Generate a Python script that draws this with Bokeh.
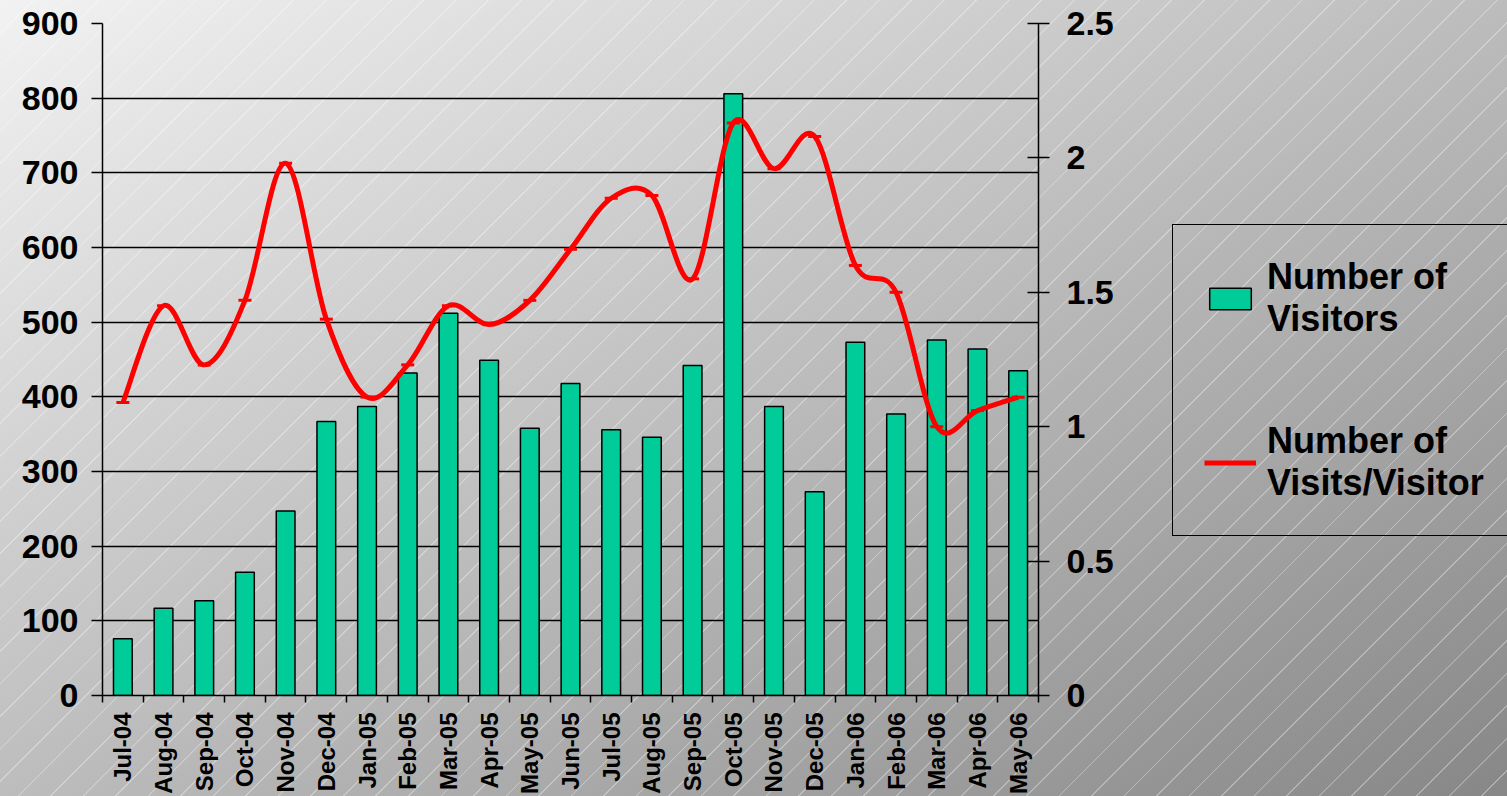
from bokeh.plotting import figure
from bokeh.layouts import row
from bokeh.models import (Range1d, LinearAxis, FixedTicker, CustomJSTickFormatter,
                          Legend, LegendItem, ColumnDataSource)
from bokeh.embed import file_html
from bokeh.resources import INLINE

months = ["Jul-04", "Aug-04", "Sep-04", "Oct-04", "Nov-04", "Dec-04", "Jan-05", "Feb-05",
          "Mar-05", "Apr-05", "May-05", "Jun-05", "Jul-05", "Aug-05", "Sep-05", "Oct-05",
          "Nov-05", "Dec-05", "Jan-06", "Feb-06", "Mar-06", "Apr-06", "May-06"]
visitors = [76, 117, 127, 165, 247, 367, 387, 432, 512, 449, 358, 418,
            356, 346, 442, 806, 387, 273, 473, 377, 476, 464, 435]
visits_per_visitor = [1.09, 1.45, 1.23, 1.47, 1.98, 1.40, 1.11, 1.23, 1.45, 1.38, 1.47, 1.66,
                      1.85, 1.86, 1.55, 2.13, 1.96, 2.08, 1.60, 1.50, 1.00, 1.06, 1.11]
left_ticks = [0, 100, 200, 300, 400, 500, 600, 700, 800, 900]
right_ticks = [0, 0.5, 1, 1.5, 2, 2.5]
series_names = ["Number of\nVisitors", "Number of\nVisits/Visitor"]

FONT = "Liberation Sans"
BAR_COLOR = "#00CC99"
LINE_COLOR = "#FF0000"
n = len(months)
xc = [i + 0.5 for i in range(n)]

bar_src = ColumnDataSource(dict(x=xc, top=visitors, month=months))
pt_src = ColumnDataSource(dict(x=xc, y=visits_per_visitor, month=months))

# smoothed rendering of the line (Catmull-Rom style Bezier segments through the data points)
x0, y0, x1, y1, cx0, cy0, cx1, cy1 = [], [], [], [], [], [], [], []
for i in range(n - 1):
    pm = i - 1 if i > 0 else 0
    pp = i + 2 if i + 2 < n else n - 1
    x0.append(xc[i]); y0.append(visits_per_visitor[i])
    x1.append(xc[i + 1]); y1.append(visits_per_visitor[i + 1])
    cx0.append(xc[i] + (xc[i + 1] - xc[pm]) / 6)
    cy0.append(visits_per_visitor[i] + (visits_per_visitor[i + 1] - visits_per_visitor[pm]) / 6)
    cx1.append(xc[i + 1] - (xc[pp] - xc[i]) / 6)
    cy1.append(visits_per_visitor[i + 1] - (visits_per_visitor[pp] - visits_per_visitor[i]) / 6)
bz_src = ColumnDataSource(dict(x0=x0, y0=y0, x1=x1, y1=y1, cx0=cx0, cy0=cy0, cx1=cx1, cy1=cy1))

p = figure(width=1130, height=796, output_backend="svg", toolbar_location=None,
           x_range=Range1d(0, n), y_range=Range1d(0, 900),
           min_border_left=102, min_border_right=92, min_border_top=23, min_border_bottom=98)
p.extra_y_ranges = {"r": Range1d(0, 2.5)}
p.background_fill_color = None
p.border_fill_color = None
p.outline_line_color = None

# grid
p.xgrid.grid_line_color = None
p.ygrid.grid_line_color = "black"
p.ygrid.grid_line_width = 1.5
p.ygrid.ticker = FixedTicker(ticks=left_ticks)

p.vbar(x="x", top="top", width=0.46, source=bar_src, fill_color=BAR_COLOR,
       line_color="black", line_width=1.5)
p.bezier(x0="x0", y0="y0", x1="x1", y1="y1", cx0="cx0", cy0="cy0", cx1="cx1", cy1="cy1",
         source=bz_src, line_color=LINE_COLOR, line_width=5, y_range_name="r")
p.scatter(x="x", y="y", source=pt_src, marker="dash", size=13, line_color=LINE_COLOR,
          line_width=3, y_range_name="r")

# x axis
xa = p.xaxis[0]
xa.ticker = FixedTicker(ticks=xc, minor_ticks=list(range(n + 1)))
xa.formatter = CustomJSTickFormatter(args=dict(labels=months),
                                     code="return labels[Math.round(tick - 0.5)];")
xa.major_tick_out = 0
xa.major_tick_in = 0
xa.minor_tick_out = 7
xa.minor_tick_in = 0
xa.minor_tick_line_color = "black"
xa.minor_tick_line_width = 1.5
xa.axis_line_color = "black"
xa.axis_line_width = 1.5
xa.major_label_orientation = 1.5707963
xa.major_label_standoff = 10
xa.major_label_text_font = FONT
xa.major_label_text_font_style = "bold"
xa.major_label_text_font_size = "24px"
xa.major_label_text_color = "black"

# left axis
ya = p.yaxis[0]
ya.ticker = FixedTicker(ticks=left_ticks)
ya.major_tick_out = 11
ya.major_tick_in = 0
ya.minor_tick_out = 0
ya.minor_tick_in = 0
ya.major_tick_line_color = "black"
ya.major_tick_line_width = 1.5
ya.axis_line_color = "black"
ya.axis_line_width = 1.5
ya.major_label_standoff = 13
ya.major_label_text_font = FONT
ya.major_label_text_font_style = "bold"
ya.major_label_text_font_size = "34px"
ya.major_label_text_color = "black"

# right axis
ra = LinearAxis(y_range_name="r", ticker=FixedTicker(ticks=right_ticks),
                formatter=CustomJSTickFormatter(code="return tick.toString();"))
ra.major_tick_out = 11
ra.major_tick_in = 11
ra.minor_tick_out = 0
ra.minor_tick_in = 0
ra.major_tick_line_color = "black"
ra.major_tick_line_width = 1.5
ra.axis_line_color = "black"
ra.axis_line_width = 1.5
ra.major_label_standoff = 17
ra.major_label_text_font = FONT
ra.major_label_text_font_style = "bold"
ra.major_label_text_font_size = "34px"
ra.major_label_text_color = "black"
p.add_layout(ra, "right")

# legend panel (a second, axis-less figure to the right of the chart); its key renderers
# share the chart's data sources but are hidden, so only the legend is drawn there
lg = figure(width=377, height=796, output_backend="svg", toolbar_location=None,
            x_range=Range1d(0, 1), y_range=Range1d(0, 1),
            x_axis_type=None, y_axis_type=None, min_border=0)
lg.background_fill_color = None
lg.border_fill_color = None
lg.outline_line_color = None
lg.grid.grid_line_color = None
bar_key = lg.vbar(x="x", top="top", width=0.46, source=bar_src, fill_color=BAR_COLOR,
                  line_color="black", line_width=1.5, visible=False)
line_key = lg.line(x="x", y="y", source=pt_src, line_color=LINE_COLOR, line_width=5,
                   visible=False)

legend = Legend(items=[LegendItem(label=series_names[0], renderers=[bar_key]),
                       LegendItem(label=series_names[1], renderers=[line_key])],
                location=(42, 159), margin=0, padding=31, spacing=80,
                glyph_width=52, glyph_height=27, label_standoff=11,
                label_text_font=FONT, label_text_font_style="bold", label_text_font_size="36px",
                label_text_color="black",
                border_line_color="black", border_line_width=1.5, border_line_alpha=1.0,
                background_fill_alpha=0)
lg.add_layout(legend, "center")

layout = row(p, lg, spacing=0)
layout.styles = {
    "background-image": "repeating-linear-gradient(135deg, rgba(255,255,255,0.32) 0px, "
                        "rgba(255,255,255,0.32) 1px, rgba(255,255,255,0) 1.4px, rgba(255,255,255,0) 23px), "
                        "linear-gradient(to bottom right, #f2f2f2 0%, #878787 100%)"
}

open("out.html", "w").write(file_html(layout, INLINE))
